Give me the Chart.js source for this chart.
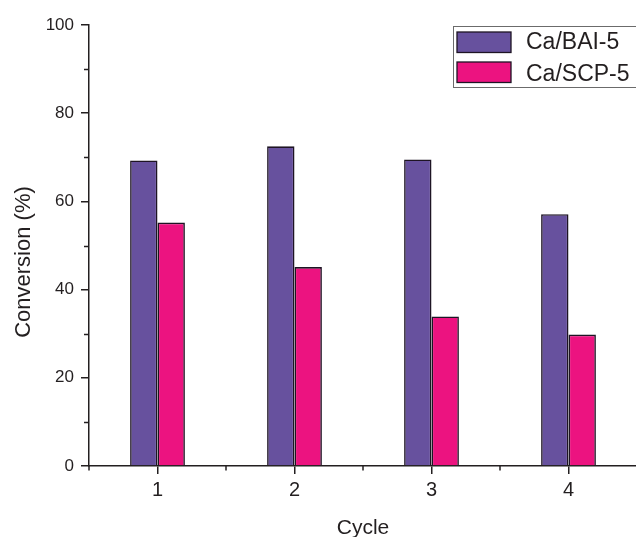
<!DOCTYPE html>
<html>
<head>
<meta charset="utf-8">
<script src="https://cdn.jsdelivr.net/npm/chart.js@4/dist/chart.umd.min.js"></script>
<style>
html,body{margin:0;padding:0;background:#fff;overflow:hidden;}
canvas{display:block;}
</style>
</head>
<body>
<canvas id="c" width="645" height="537"></canvas>
<script>
const categories = ['1', '2', '3', '4'];
const seriesNames = ['Ca/BAI-5', 'Ca/SCP-5'];
const baiValues = [69.3, 72.5, 69.5, 57.1];
const scpValues = [55.2, 45.1, 33.9, 29.8];
const yTicks = [0, 20, 40, 60, 80, 100];
const yMinorTicks = [10, 30, 50, 70, 90];
const xTitle = 'Cycle';
const yTitle = 'Conversion (%)';

const FONT = '"Liberation Sans", Arial, Helvetica, sans-serif';
const AXIS = '#231f20';
const BAR_EDGE = '#1e1424';
const colors = ['#67519e', '#ec1380'];

const decor = {
  id: 'decor',
  afterDraw(chart) {
    const ctx = chart.ctx;
    const x = chart.scales.x, y = chart.scales.y;
    const area = chart.chartArea;
    ctx.save();
    ctx.strokeStyle = AXIS;
    ctx.lineWidth = 1.5;
    yMinorTicks.forEach(v => {
      const py = Math.round(y.getPixelForValue(v)) + 0.5;
      ctx.beginPath(); ctx.moveTo(area.left - 5, py); ctx.lineTo(area.left, py); ctx.stroke();
    });
    for (let i = 0; i <= categories.length; i++) {
      const px = x.getPixelForValue(i - 0.5);
      ctx.beginPath(); ctx.moveTo(px, area.bottom); ctx.lineTo(px, area.bottom + 4.5); ctx.stroke();
    }
    ctx.fillStyle = AXIS;
    ctx.font = '21px ' + FONT;
    ctx.textAlign = 'center';
    ctx.textBaseline = 'alphabetic';
    ctx.fillText(xTitle, (area.left + area.right) / 2, 534);
    ctx.save();
    ctx.translate(24, 262);
    ctx.rotate(-Math.PI / 2);
    ctx.font = '22px ' + FONT;
    ctx.textBaseline = 'middle';
    ctx.fillText(yTitle, 0, 0);
    ctx.restore();
    ctx.strokeStyle = '#6b6b6b';
    ctx.lineWidth = 1;
    ctx.strokeRect(453.5, 26.5, 300, 61);
    const rows = [{top: 32, base: 48.5}, {top: 62, base: 80.5}];
    chart.data.datasets.forEach((ds, i) => {
      const r = rows[i];
      ctx.fillStyle = ds.backgroundColor;
      ctx.fillRect(457, r.top, 54, 20.5);
      ctx.strokeStyle = BAR_EDGE;
      ctx.lineWidth = 1.3;
      ctx.strokeRect(457, r.top, 54, 20.5);
      ctx.fillStyle = AXIS;
      ctx.font = '23px ' + FONT;
      ctx.textAlign = 'left';
      ctx.textBaseline = 'alphabetic';
      ctx.fillText(ds.label, 526, r.base);
    });
    ctx.restore();
  }
};

new Chart(document.getElementById('c'), {
  type: 'bar',
  data: {
    labels: categories,
    datasets: [
      { label: seriesNames[0], data: baiValues, backgroundColor: colors[0], borderColor: BAR_EDGE, borderWidth: 1.6, borderSkipped: 'bottom' },
      { label: seriesNames[1], data: scpValues, backgroundColor: colors[1], borderColor: BAR_EDGE, borderWidth: 1.6, borderSkipped: 'bottom' }
    ]
  },
  options: {
    responsive: false,
    animation: false,
    devicePixelRatio: 1,
    layout: { padding: { left: 0, top: 25, right: 8, bottom: 0 } },
    plugins: { legend: { display: false }, tooltip: { enabled: false } },
    datasets: { bar: { categoryPercentage: 0.4, barPercentage: 1.0 } },
    scales: {
      x: {
        type: 'category',
        offset: true,
        grid: { display: true, offset: false, drawOnChartArea: false, drawTicks: true, tickLength: 8, color: AXIS, lineWidth: 1.5 },
        border: { display: true, color: AXIS, width: 1.5 },
        ticks: { color: AXIS, font: { family: FONT, size: 20 }, padding: 4, maxRotation: 0 },
        afterFit(scale) { scale.height = 71; }
      },
      y: {
        type: 'linear',
        min: 0,
        max: 100,
        afterBuildTicks(scale) { scale.ticks = yTicks.map(v => ({ value: v })); },
        grid: { display: true, drawOnChartArea: false, drawTicks: true, tickLength: 8, color: AXIS, lineWidth: 1.5 },
        border: { display: true, color: AXIS, width: 1.5 },
        ticks: { color: AXIS, font: { family: FONT, size: 17 }, padding: 7 },
        afterFit(scale) { scale.width = 89; }
      }
    }
  },
  plugins: [decor]
});
</script>
</body>
</html>
